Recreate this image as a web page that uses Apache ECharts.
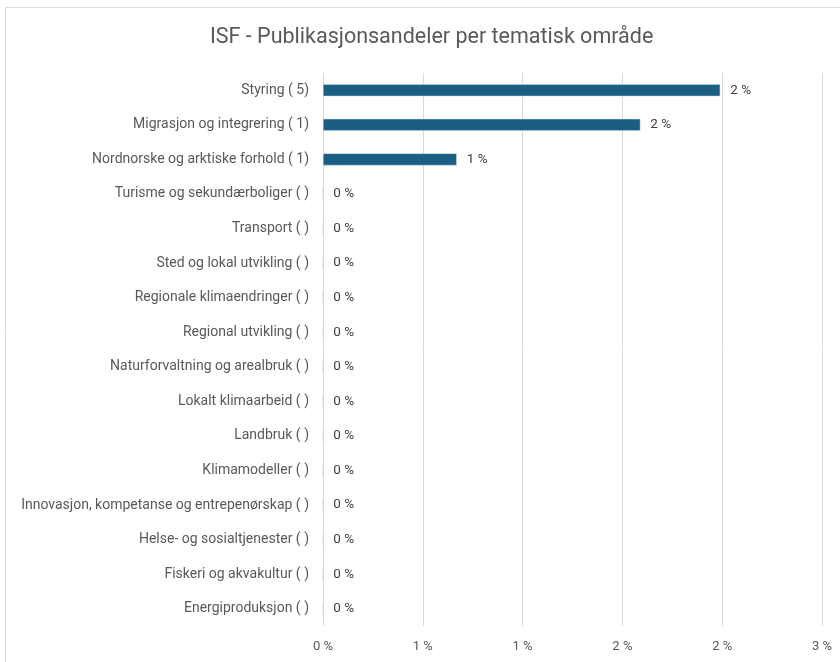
<!DOCTYPE html>
<html>
<head>
<meta charset="utf-8">
<script src="https://cdn.jsdelivr.net/npm/echarts@6/dist/echarts.min.js"></script>
<style>
  html, body { margin: 0; padding: 0; background: #fff; }
  #chart { width: 840px; height: 662px; }
</style>
</head>
<body>
<div id="chart"></div>
<script>
// temaområder, ovenfra og ned
const categories = [
  'Styring ( 5)',
  'Migrasjon og integrering ( 1)',
  'Nordnorske og arktiske forhold ( 1)',
  'Turisme og sekundærboliger ( )',
  'Transport ( )',
  'Sted og lokal utvikling ( )',
  'Regionale klimaendringer ( )',
  'Regional utvikling ( )',
  'Naturforvaltning og arealbruk ( )',
  'Lokalt klimaarbeid ( )',
  'Landbruk ( )',
  'Klimamodeller ( )',
  'Innovasjon, kompetanse og entrepenørskap ( )',
  'Helse- og sosialtjenester ( )',
  'Fiskeri og akvakultur ( )',
  'Energiproduksjon ( )'
];
// andel i prosent
const shares = [1.99, 1.59, 0.67, 0, 0, 0, 0, 0, 0, 0, 0, 0, 0, 0, 0, 0];

const chart = echarts.init(document.getElementById('chart'));
const fnt = 'Roboto, "Noto Sans", sans-serif';

chart.setOption({
  animation: false,
  textStyle: { fontFamily: fnt },
  title: {
    text: 'ISF - Publikasjonsandeler per tematisk område',
    left: 205,
    top: 22,
    textStyle: { fontSize: 21.5, fontWeight: 'normal', color: '#595959', fontFamily: fnt }
  },
  graphic: [{
    type: 'rect',
    shape: { x: 5.5, y: 7.5, width: 850, height: 680 },
    style: { fill: 'none', stroke: '#d9d9d9', lineWidth: 1 },
    silent: true
  }],
  grid: { left: 323, right: 18, top: 73, bottom: 36 },
  xAxis: {
    type: 'value',
    min: 0,
    max: 2.5,
    interval: 0.5,
    axisLine: { show: false },
    axisTick: { show: false },
    splitLine: { lineStyle: { color: '#d9d9d9', width: 1 } },
    axisLabel: {
      color: '#595959',
      fontSize: 13,
      margin: 14,
      formatter: v => Math.round(v) + ' %'
    }
  },
  yAxis: {
    type: 'category',
    data: categories,
    inverse: true,
    axisLine: { show: false },
    axisTick: { show: false },
    axisLabel: { color: '#595959', fontSize: 14, margin: 14 }
  },
  series: [{
    type: 'bar',
    data: shares,
    barWidth: 12,
    itemStyle: { color: '#1b5e83', borderColor: '#c9dbe6', borderWidth: 0.5 },
    label: {
      show: true,
      position: 'right',
      distance: 10,
      color: '#404040',
      fontSize: 13.5,
      formatter: p => Math.round(p.value) + ' %'
    }
  }]
});
</script>
</body>
</html>
